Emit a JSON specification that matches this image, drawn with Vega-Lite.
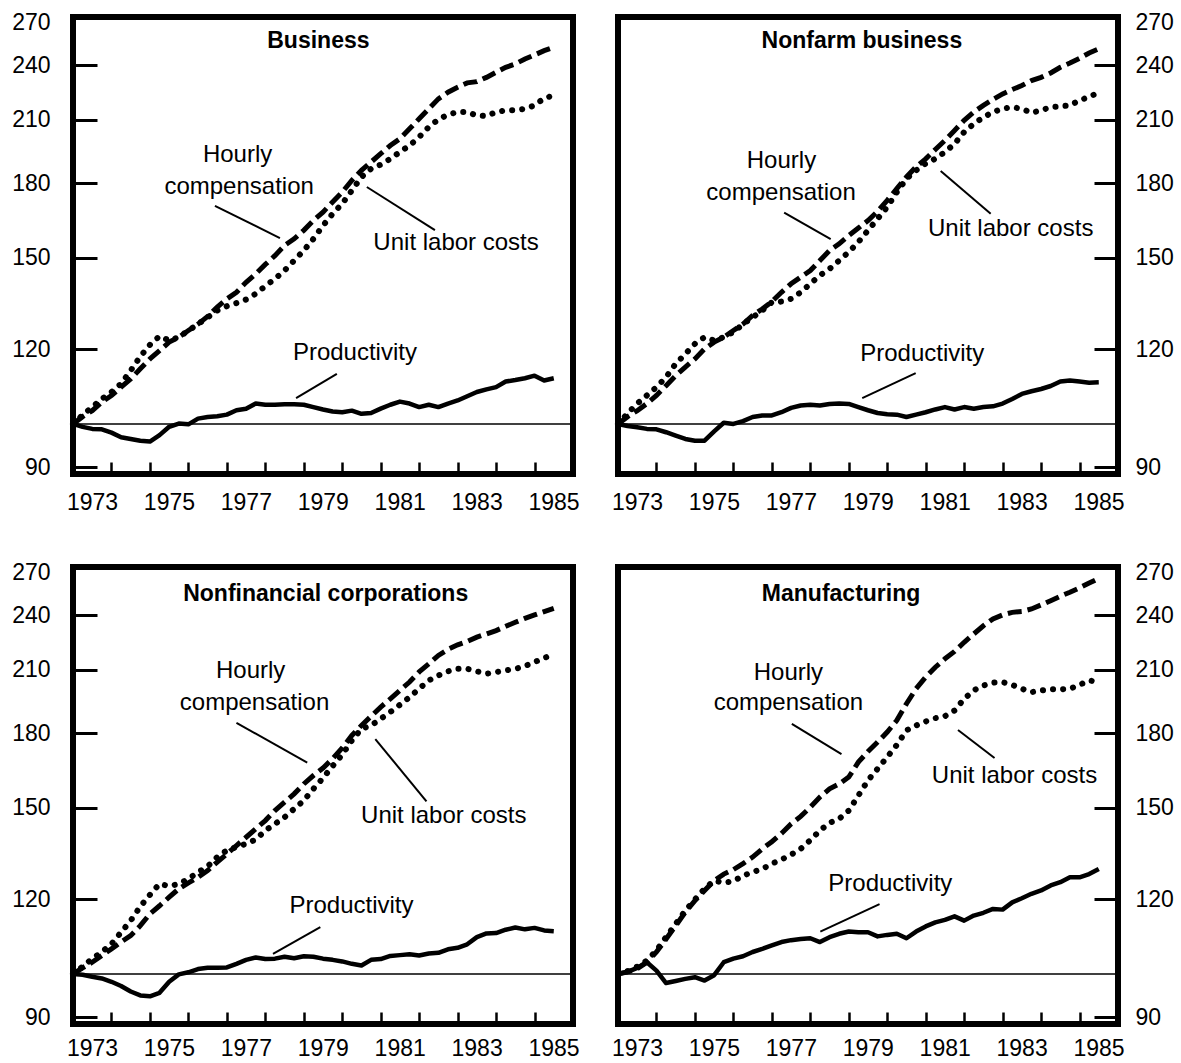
{
"$schema": "https://vega.github.io/schema/vega-lite/v6.json",
"background": "white",
"padding": {"left": 8, "top": 8, "right": 4, "bottom": 4},
"datasets": {"one": [{"n": 1}], "series": [
{"p":"B","s":"hc","t":1973,"v":100},{"p":"B","s":"hc","t":1973.25,"v":101.8},{"p":"B","s":"hc","t":1973.5,"v":103.3},{"p":"B","s":"hc","t":1973.75,"v":105.5},
{"p":"B","s":"hc","t":1974,"v":107.2},{"p":"B","s":"hc","t":1974.25,"v":109.4},{"p":"B","s":"hc","t":1974.5,"v":111.6},{"p":"B","s":"hc","t":1974.75,"v":114.4},
{"p":"B","s":"hc","t":1975,"v":117.2},{"p":"B","s":"hc","t":1975.25,"v":119.6},{"p":"B","s":"hc","t":1975.5,"v":122.1},{"p":"B","s":"hc","t":1975.75,"v":123.6},
{"p":"B","s":"hc","t":1976,"v":125.6},{"p":"B","s":"hc","t":1976.25,"v":127.6},{"p":"B","s":"hc","t":1976.5,"v":130.0},{"p":"B","s":"hc","t":1976.75,"v":133.0},
{"p":"B","s":"hc","t":1977,"v":135.7},{"p":"B","s":"hc","t":1977.25,"v":137.9},{"p":"B","s":"hc","t":1977.5,"v":141.3},{"p":"B","s":"hc","t":1977.75,"v":144.2},
{"p":"B","s":"hc","t":1978,"v":147.6},{"p":"B","s":"hc","t":1978.25,"v":150.8},{"p":"B","s":"hc","t":1978.5,"v":154.6},{"p":"B","s":"hc","t":1978.75,"v":157.1},
{"p":"B","s":"hc","t":1979,"v":160.4},{"p":"B","s":"hc","t":1979.25,"v":164.3},{"p":"B","s":"hc","t":1979.5,"v":167.7},{"p":"B","s":"hc","t":1979.75,"v":171.9},
{"p":"B","s":"hc","t":1980,"v":176.1},{"p":"B","s":"hc","t":1980.25,"v":181.2},{"p":"B","s":"hc","t":1980.5,"v":185.7},{"p":"B","s":"hc","t":1980.75,"v":189.5},
{"p":"B","s":"hc","t":1981,"v":193.4},{"p":"B","s":"hc","t":1981.25,"v":197.3},{"p":"B","s":"hc","t":1981.5,"v":200.6},{"p":"B","s":"hc","t":1981.75,"v":205.5},
{"p":"B","s":"hc","t":1982,"v":210.6},{"p":"B","s":"hc","t":1982.25,"v":215.8},{"p":"B","s":"hc","t":1982.5,"v":221.1},{"p":"B","s":"hc","t":1982.75,"v":224.7},
{"p":"B","s":"hc","t":1983,"v":227.5},{"p":"B","s":"hc","t":1983.25,"v":229.9},{"p":"B","s":"hc","t":1983.5,"v":230.6},{"p":"B","s":"hc","t":1983.75,"v":233.0},
{"p":"B","s":"hc","t":1984,"v":235.9},{"p":"B","s":"hc","t":1984.25,"v":238.8},{"p":"B","s":"hc","t":1984.5,"v":240.8},{"p":"B","s":"hc","t":1984.75,"v":243.7},
{"p":"B","s":"hc","t":1985,"v":246.1},{"p":"B","s":"hc","t":1985.25,"v":248.7},{"p":"B","s":"hc","t":1985.5,"v":250.8},
{"p":"B","s":"ulc","t":1973,"v":100},{"p":"B","s":"ulc","t":1973.25,"v":102.2},{"p":"B","s":"ulc","t":1973.5,"v":104.2},{"p":"B","s":"ulc","t":1973.75,"v":106.3},
{"p":"B","s":"ulc","t":1974,"v":108.1},{"p":"B","s":"ulc","t":1974.25,"v":110.3},{"p":"B","s":"ulc","t":1974.5,"v":113.9},{"p":"B","s":"ulc","t":1974.75,"v":117.9},
{"p":"B","s":"ulc","t":1975,"v":121.3},{"p":"B","s":"ulc","t":1975.25,"v":123.9},{"p":"B","s":"ulc","t":1975.5,"v":122.6},{"p":"B","s":"ulc","t":1975.75,"v":123.6},
{"p":"B","s":"ulc","t":1976,"v":125.6},{"p":"B","s":"ulc","t":1976.25,"v":127.6},{"p":"B","s":"ulc","t":1976.5,"v":129.7},{"p":"B","s":"ulc","t":1976.75,"v":131.9},
{"p":"B","s":"ulc","t":1977,"v":133.3},{"p":"B","s":"ulc","t":1977.25,"v":134.3},{"p":"B","s":"ulc","t":1977.5,"v":135.5},{"p":"B","s":"ulc","t":1977.75,"v":137.4},
{"p":"B","s":"ulc","t":1978,"v":140.0},{"p":"B","s":"ulc","t":1978.25,"v":142.5},{"p":"B","s":"ulc","t":1978.5,"v":145.4},{"p":"B","s":"ulc","t":1978.75,"v":149.0},
{"p":"B","s":"ulc","t":1979,"v":152.7},{"p":"B","s":"ulc","t":1979.25,"v":157.1},{"p":"B","s":"ulc","t":1979.5,"v":162.3},{"p":"B","s":"ulc","t":1979.75,"v":167.0},
{"p":"B","s":"ulc","t":1980,"v":171.2},{"p":"B","s":"ulc","t":1980.25,"v":176.8},{"p":"B","s":"ulc","t":1980.5,"v":182.7},{"p":"B","s":"ulc","t":1980.75,"v":186.4},
{"p":"B","s":"ulc","t":1981,"v":188.3},{"p":"B","s":"ulc","t":1981.25,"v":191.0},{"p":"B","s":"ulc","t":1981.5,"v":194.2},{"p":"B","s":"ulc","t":1981.75,"v":197.3},
{"p":"B","s":"ulc","t":1982,"v":201.4},{"p":"B","s":"ulc","t":1982.25,"v":206.4},{"p":"B","s":"ulc","t":1982.5,"v":210.3},{"p":"B","s":"ulc","t":1982.75,"v":212.7},
{"p":"B","s":"ulc","t":1983,"v":214.1},{"p":"B","s":"ulc","t":1983.25,"v":214.1},{"p":"B","s":"ulc","t":1983.5,"v":212.3},{"p":"B","s":"ulc","t":1983.75,"v":212.0},
{"p":"B","s":"ulc","t":1984,"v":214.1},{"p":"B","s":"ulc","t":1984.25,"v":215.0},{"p":"B","s":"ulc","t":1984.5,"v":215.0},{"p":"B","s":"ulc","t":1984.75,"v":215.8},
{"p":"B","s":"ulc","t":1985,"v":217.6},{"p":"B","s":"ulc","t":1985.25,"v":221.5},{"p":"B","s":"ulc","t":1985.5,"v":222.9},
{"p":"B","s":"pr","t":1973,"v":100},{"p":"B","s":"pr","t":1973.25,"v":99.3},{"p":"B","s":"pr","t":1973.5,"v":98.8},{"p":"B","s":"pr","t":1973.75,"v":98.7},
{"p":"B","s":"pr","t":1974,"v":97.9},{"p":"B","s":"pr","t":1974.25,"v":96.8},{"p":"B","s":"pr","t":1974.5,"v":96.4},{"p":"B","s":"pr","t":1974.75,"v":96.0},
{"p":"B","s":"pr","t":1975,"v":95.8},{"p":"B","s":"pr","t":1975.25,"v":97.3},{"p":"B","s":"pr","t":1975.5,"v":99.3},{"p":"B","s":"pr","t":1975.75,"v":100.1},
{"p":"B","s":"pr","t":1976,"v":99.9},{"p":"B","s":"pr","t":1976.25,"v":101.3},{"p":"B","s":"pr","t":1976.5,"v":101.7},{"p":"B","s":"pr","t":1976.75,"v":101.9},
{"p":"B","s":"pr","t":1977,"v":102.3},{"p":"B","s":"pr","t":1977.25,"v":103.4},{"p":"B","s":"pr","t":1977.5,"v":103.8},{"p":"B","s":"pr","t":1977.75,"v":105.1},
{"p":"B","s":"pr","t":1978,"v":104.8},{"p":"B","s":"pr","t":1978.25,"v":104.8},{"p":"B","s":"pr","t":1978.5,"v":104.9},{"p":"B","s":"pr","t":1978.75,"v":104.9},
{"p":"B","s":"pr","t":1979,"v":104.8},{"p":"B","s":"pr","t":1979.25,"v":104.2},{"p":"B","s":"pr","t":1979.5,"v":103.6},{"p":"B","s":"pr","t":1979.75,"v":103.1},
{"p":"B","s":"pr","t":1980,"v":102.9},{"p":"B","s":"pr","t":1980.25,"v":103.3},{"p":"B","s":"pr","t":1980.5,"v":102.5},{"p":"B","s":"pr","t":1980.75,"v":102.7},
{"p":"B","s":"pr","t":1981,"v":103.8},{"p":"B","s":"pr","t":1981.25,"v":104.8},{"p":"B","s":"pr","t":1981.5,"v":105.6},{"p":"B","s":"pr","t":1981.75,"v":105.1},
{"p":"B","s":"pr","t":1982,"v":104.2},{"p":"B","s":"pr","t":1982.25,"v":104.8},{"p":"B","s":"pr","t":1982.5,"v":104.2},{"p":"B","s":"pr","t":1982.75,"v":105.1},
{"p":"B","s":"pr","t":1983,"v":105.9},{"p":"B","s":"pr","t":1983.25,"v":107.0},{"p":"B","s":"pr","t":1983.5,"v":108.1},{"p":"B","s":"pr","t":1983.75,"v":108.8},
{"p":"B","s":"pr","t":1984,"v":109.4},{"p":"B","s":"pr","t":1984.25,"v":110.9},{"p":"B","s":"pr","t":1984.5,"v":111.3},{"p":"B","s":"pr","t":1984.75,"v":111.8},
{"p":"B","s":"pr","t":1985,"v":112.5},{"p":"B","s":"pr","t":1985.25,"v":111.2},{"p":"B","s":"pr","t":1985.5,"v":111.8},
{"p":"N","s":"hc","t":1973,"v":100},{"p":"N","s":"hc","t":1973.25,"v":101.8},{"p":"N","s":"hc","t":1973.5,"v":103.3},{"p":"N","s":"hc","t":1973.75,"v":105.1},
{"p":"N","s":"hc","t":1974,"v":107.2},{"p":"N","s":"hc","t":1974.25,"v":109.8},{"p":"N","s":"hc","t":1974.5,"v":112.5},{"p":"N","s":"hc","t":1974.75,"v":114.9},
{"p":"N","s":"hc","t":1975,"v":117.2},{"p":"N","s":"hc","t":1975.25,"v":120.1},{"p":"N","s":"hc","t":1975.5,"v":122.1},{"p":"N","s":"hc","t":1975.75,"v":123.6},
{"p":"N","s":"hc","t":1976,"v":125.6},{"p":"N","s":"hc","t":1976.25,"v":127.6},{"p":"N","s":"hc","t":1976.5,"v":130.3},{"p":"N","s":"hc","t":1976.75,"v":132.4},
{"p":"N","s":"hc","t":1977,"v":134.8},{"p":"N","s":"hc","t":1977.25,"v":137.9},{"p":"N","s":"hc","t":1977.5,"v":140.8},{"p":"N","s":"hc","t":1977.75,"v":143.1},
{"p":"N","s":"hc","t":1978,"v":145.4},{"p":"N","s":"hc","t":1978.25,"v":149.0},{"p":"N","s":"hc","t":1978.5,"v":152.7},{"p":"N","s":"hc","t":1978.75,"v":155.2},
{"p":"N","s":"hc","t":1979,"v":158.4},{"p":"N","s":"hc","t":1979.25,"v":161.3},{"p":"N","s":"hc","t":1979.5,"v":164.3},{"p":"N","s":"hc","t":1979.75,"v":168.0},
{"p":"N","s":"hc","t":1980,"v":172.6},{"p":"N","s":"hc","t":1980.25,"v":177.6},{"p":"N","s":"hc","t":1980.5,"v":182.7},{"p":"N","s":"hc","t":1980.75,"v":187.3},
{"p":"N","s":"hc","t":1981,"v":191.0},{"p":"N","s":"hc","t":1981.25,"v":195.4},{"p":"N","s":"hc","t":1981.5,"v":199.8},{"p":"N","s":"hc","t":1981.75,"v":204.7},
{"p":"N","s":"hc","t":1982,"v":209.8},{"p":"N","s":"hc","t":1982.25,"v":214.1},{"p":"N","s":"hc","t":1982.5,"v":217.6},{"p":"N","s":"hc","t":1982.75,"v":220.8},
{"p":"N","s":"hc","t":1983,"v":223.8},{"p":"N","s":"hc","t":1983.25,"v":226.2},{"p":"N","s":"hc","t":1983.5,"v":228.4},{"p":"N","s":"hc","t":1983.75,"v":231.2},
{"p":"N","s":"hc","t":1984,"v":233.0},{"p":"N","s":"hc","t":1984.25,"v":235.5},{"p":"N","s":"hc","t":1984.5,"v":238.8},{"p":"N","s":"hc","t":1984.75,"v":241.3},
{"p":"N","s":"hc","t":1985,"v":244.1},{"p":"N","s":"hc","t":1985.25,"v":247.3},{"p":"N","s":"hc","t":1985.5,"v":249.8},
{"p":"N","s":"ulc","t":1973,"v":100},{"p":"N","s":"ulc","t":1973.25,"v":102.6},{"p":"N","s":"ulc","t":1973.5,"v":105.1},{"p":"N","s":"ulc","t":1973.75,"v":107.2},
{"p":"N","s":"ulc","t":1974,"v":109.4},{"p":"N","s":"ulc","t":1974.25,"v":112.1},{"p":"N","s":"ulc","t":1974.5,"v":115.8},{"p":"N","s":"ulc","t":1974.75,"v":118.6},
{"p":"N","s":"ulc","t":1975,"v":121.6},{"p":"N","s":"ulc","t":1975.25,"v":123.6},{"p":"N","s":"ulc","t":1975.5,"v":122.6},{"p":"N","s":"ulc","t":1975.75,"v":123.6},
{"p":"N","s":"ulc","t":1976,"v":125.1},{"p":"N","s":"ulc","t":1976.25,"v":127.6},{"p":"N","s":"ulc","t":1976.5,"v":129.7},{"p":"N","s":"ulc","t":1976.75,"v":131.9},
{"p":"N","s":"ulc","t":1977,"v":134.6},{"p":"N","s":"ulc","t":1977.25,"v":134.8},{"p":"N","s":"ulc","t":1977.5,"v":135.7},{"p":"N","s":"ulc","t":1977.75,"v":137.9},
{"p":"N","s":"ulc","t":1978,"v":140.8},{"p":"N","s":"ulc","t":1978.25,"v":143.7},{"p":"N","s":"ulc","t":1978.5,"v":146.0},{"p":"N","s":"ulc","t":1978.75,"v":149.0},
{"p":"N","s":"ulc","t":1979,"v":152.1},{"p":"N","s":"ulc","t":1979.25,"v":155.9},{"p":"N","s":"ulc","t":1979.5,"v":160.4},{"p":"N","s":"ulc","t":1979.75,"v":165.0},
{"p":"N","s":"ulc","t":1980,"v":169.8},{"p":"N","s":"ulc","t":1980.25,"v":176.1},{"p":"N","s":"ulc","t":1980.5,"v":181.9},{"p":"N","s":"ulc","t":1980.75,"v":185.7},
{"p":"N","s":"ulc","t":1981,"v":188.8},{"p":"N","s":"ulc","t":1981.25,"v":191.0},{"p":"N","s":"ulc","t":1981.5,"v":194.2},{"p":"N","s":"ulc","t":1981.75,"v":198.1},
{"p":"N","s":"ulc","t":1982,"v":203.9},{"p":"N","s":"ulc","t":1982.25,"v":208.0},{"p":"N","s":"ulc","t":1982.5,"v":211.4},{"p":"N","s":"ulc","t":1982.75,"v":214.1},
{"p":"N","s":"ulc","t":1983,"v":215.8},{"p":"N","s":"ulc","t":1983.25,"v":216.7},{"p":"N","s":"ulc","t":1983.5,"v":215.8},{"p":"N","s":"ulc","t":1983.75,"v":213.7},
{"p":"N","s":"ulc","t":1984,"v":215.0},{"p":"N","s":"ulc","t":1984.25,"v":216.7},{"p":"N","s":"ulc","t":1984.5,"v":217.1},{"p":"N","s":"ulc","t":1984.75,"v":217.6},
{"p":"N","s":"ulc","t":1985,"v":220.3},{"p":"N","s":"ulc","t":1985.25,"v":222.1},{"p":"N","s":"ulc","t":1985.5,"v":224.7},
{"p":"N","s":"pr","t":1973,"v":100},{"p":"N","s":"pr","t":1973.25,"v":99.5},{"p":"N","s":"pr","t":1973.5,"v":99.2},{"p":"N","s":"pr","t":1973.75,"v":98.8},
{"p":"N","s":"pr","t":1974,"v":98.7},{"p":"N","s":"pr","t":1974.25,"v":98.0},{"p":"N","s":"pr","t":1974.5,"v":97.2},{"p":"N","s":"pr","t":1974.75,"v":96.4},
{"p":"N","s":"pr","t":1975,"v":96.0},{"p":"N","s":"pr","t":1975.25,"v":96.0},{"p":"N","s":"pr","t":1975.5,"v":98.2},{"p":"N","s":"pr","t":1975.75,"v":100.3},
{"p":"N","s":"pr","t":1976,"v":100.0},{"p":"N","s":"pr","t":1976.25,"v":100.7},{"p":"N","s":"pr","t":1976.5,"v":101.7},{"p":"N","s":"pr","t":1976.75,"v":102.1},
{"p":"N","s":"pr","t":1977,"v":102.1},{"p":"N","s":"pr","t":1977.25,"v":102.9},{"p":"N","s":"pr","t":1977.5,"v":104.0},{"p":"N","s":"pr","t":1977.75,"v":104.6},
{"p":"N","s":"pr","t":1978,"v":104.8},{"p":"N","s":"pr","t":1978.25,"v":104.6},{"p":"N","s":"pr","t":1978.5,"v":105.0},{"p":"N","s":"pr","t":1978.75,"v":105.1},
{"p":"N","s":"pr","t":1979,"v":105.0},{"p":"N","s":"pr","t":1979.25,"v":104.2},{"p":"N","s":"pr","t":1979.5,"v":103.4},{"p":"N","s":"pr","t":1979.75,"v":102.7},
{"p":"N","s":"pr","t":1980,"v":102.4},{"p":"N","s":"pr","t":1980.25,"v":102.3},{"p":"N","s":"pr","t":1980.5,"v":101.7},{"p":"N","s":"pr","t":1980.75,"v":102.3},
{"p":"N","s":"pr","t":1981,"v":102.9},{"p":"N","s":"pr","t":1981.25,"v":103.6},{"p":"N","s":"pr","t":1981.5,"v":104.2},{"p":"N","s":"pr","t":1981.75,"v":103.6},
{"p":"N","s":"pr","t":1982,"v":104.2},{"p":"N","s":"pr","t":1982.25,"v":103.8},{"p":"N","s":"pr","t":1982.5,"v":104.2},{"p":"N","s":"pr","t":1982.75,"v":104.4},
{"p":"N","s":"pr","t":1983,"v":105.1},{"p":"N","s":"pr","t":1983.25,"v":106.3},{"p":"N","s":"pr","t":1983.5,"v":107.6},{"p":"N","s":"pr","t":1983.75,"v":108.3},
{"p":"N","s":"pr","t":1984,"v":108.9},{"p":"N","s":"pr","t":1984.25,"v":109.7},{"p":"N","s":"pr","t":1984.5,"v":110.9},{"p":"N","s":"pr","t":1984.75,"v":111.2},
{"p":"N","s":"pr","t":1985,"v":110.9},{"p":"N","s":"pr","t":1985.25,"v":110.6},{"p":"N","s":"pr","t":1985.5,"v":110.7},
{"p":"C","s":"hc","t":1973,"v":100},{"p":"C","s":"hc","t":1973.25,"v":101.5},{"p":"C","s":"hc","t":1973.5,"v":102.9},{"p":"C","s":"hc","t":1973.75,"v":104.6},
{"p":"C","s":"hc","t":1974,"v":106.3},{"p":"C","s":"hc","t":1974.25,"v":108.1},{"p":"C","s":"hc","t":1974.5,"v":109.8},{"p":"C","s":"hc","t":1974.75,"v":112.5},
{"p":"C","s":"hc","t":1975,"v":115.8},{"p":"C","s":"hc","t":1975.25,"v":118.1},{"p":"C","s":"hc","t":1975.5,"v":120.6},{"p":"C","s":"hc","t":1975.75,"v":123.1},
{"p":"C","s":"hc","t":1976,"v":124.9},{"p":"C","s":"hc","t":1976.25,"v":126.6},{"p":"C","s":"hc","t":1976.5,"v":128.7},{"p":"C","s":"hc","t":1976.75,"v":131.4},
{"p":"C","s":"hc","t":1977,"v":134.0},{"p":"C","s":"hc","t":1977.25,"v":136.8},{"p":"C","s":"hc","t":1977.5,"v":139.6},{"p":"C","s":"hc","t":1977.75,"v":142.5},
{"p":"C","s":"hc","t":1978,"v":145.4},{"p":"C","s":"hc","t":1978.25,"v":149.0},{"p":"C","s":"hc","t":1978.5,"v":152.1},{"p":"C","s":"hc","t":1978.75,"v":155.2},
{"p":"C","s":"hc","t":1979,"v":159.0},{"p":"C","s":"hc","t":1979.25,"v":162.3},{"p":"C","s":"hc","t":1979.5,"v":165.3},{"p":"C","s":"hc","t":1979.75,"v":169.1},
{"p":"C","s":"hc","t":1980,"v":173.6},{"p":"C","s":"hc","t":1980.25,"v":179.0},{"p":"C","s":"hc","t":1980.5,"v":183.4},{"p":"C","s":"hc","t":1980.75,"v":187.6},
{"p":"C","s":"hc","t":1981,"v":191.8},{"p":"C","s":"hc","t":1981.25,"v":195.7},{"p":"C","s":"hc","t":1981.5,"v":199.8},{"p":"C","s":"hc","t":1981.75,"v":203.9},
{"p":"C","s":"hc","t":1982,"v":209.0},{"p":"C","s":"hc","t":1982.25,"v":213.2},{"p":"C","s":"hc","t":1982.5,"v":217.6},{"p":"C","s":"hc","t":1982.75,"v":220.8},
{"p":"C","s":"hc","t":1983,"v":223.3},{"p":"C","s":"hc","t":1983.25,"v":225.1},{"p":"C","s":"hc","t":1983.5,"v":227.5},{"p":"C","s":"hc","t":1983.75,"v":229.3},
{"p":"C","s":"hc","t":1984,"v":231.2},{"p":"C","s":"hc","t":1984.25,"v":233.6},{"p":"C","s":"hc","t":1984.5,"v":235.9},{"p":"C","s":"hc","t":1984.75,"v":238.2},
{"p":"C","s":"hc","t":1985,"v":240.2},{"p":"C","s":"hc","t":1985.25,"v":242.2},{"p":"C","s":"hc","t":1985.5,"v":244.1},
{"p":"C","s":"ulc","t":1973,"v":100},{"p":"C","s":"ulc","t":1973.25,"v":101.8},{"p":"C","s":"ulc","t":1973.5,"v":103.8},{"p":"C","s":"ulc","t":1973.75,"v":105.5},
{"p":"C","s":"ulc","t":1974,"v":107.6},{"p":"C","s":"ulc","t":1974.25,"v":110.7},{"p":"C","s":"ulc","t":1974.5,"v":113.9},{"p":"C","s":"ulc","t":1974.75,"v":117.9},
{"p":"C","s":"ulc","t":1975,"v":121.3},{"p":"C","s":"ulc","t":1975.25,"v":124.6},{"p":"C","s":"ulc","t":1975.5,"v":123.9},{"p":"C","s":"ulc","t":1975.75,"v":124.6},
{"p":"C","s":"ulc","t":1976,"v":126.1},{"p":"C","s":"ulc","t":1976.25,"v":128.2},{"p":"C","s":"ulc","t":1976.5,"v":130.0},{"p":"C","s":"ulc","t":1976.75,"v":133.0},
{"p":"C","s":"ulc","t":1977,"v":135.2},{"p":"C","s":"ulc","t":1977.25,"v":136.3},{"p":"C","s":"ulc","t":1977.5,"v":137.4},{"p":"C","s":"ulc","t":1977.75,"v":138.8},
{"p":"C","s":"ulc","t":1978,"v":141.9},{"p":"C","s":"ulc","t":1978.25,"v":144.2},{"p":"C","s":"ulc","t":1978.5,"v":146.6},{"p":"C","s":"ulc","t":1978.75,"v":149.6},
{"p":"C","s":"ulc","t":1979,"v":152.7},{"p":"C","s":"ulc","t":1979.25,"v":157.1},{"p":"C","s":"ulc","t":1979.5,"v":161.3},{"p":"C","s":"ulc","t":1979.75,"v":166.1},
{"p":"C","s":"ulc","t":1980,"v":170.8},{"p":"C","s":"ulc","t":1980.25,"v":176.8},{"p":"C","s":"ulc","t":1980.5,"v":181.9},{"p":"C","s":"ulc","t":1980.75,"v":183.4},
{"p":"C","s":"ulc","t":1981,"v":186.4},{"p":"C","s":"ulc","t":1981.25,"v":189.5},{"p":"C","s":"ulc","t":1981.5,"v":192.9},{"p":"C","s":"ulc","t":1981.75,"v":196.5},
{"p":"C","s":"ulc","t":1982,"v":200.6},{"p":"C","s":"ulc","t":1982.25,"v":204.7},{"p":"C","s":"ulc","t":1982.5,"v":207.2},{"p":"C","s":"ulc","t":1982.75,"v":209.3},
{"p":"C","s":"ulc","t":1983,"v":210.6},{"p":"C","s":"ulc","t":1983.25,"v":210.6},{"p":"C","s":"ulc","t":1983.5,"v":209.3},{"p":"C","s":"ulc","t":1983.75,"v":208.1},
{"p":"C","s":"ulc","t":1984,"v":208.9},{"p":"C","s":"ulc","t":1984.25,"v":209.8},{"p":"C","s":"ulc","t":1984.5,"v":210.6},{"p":"C","s":"ulc","t":1984.75,"v":212.0},
{"p":"C","s":"ulc","t":1985,"v":214.1},{"p":"C","s":"ulc","t":1985.25,"v":216.2},{"p":"C","s":"ulc","t":1985.5,"v":218.5},
{"p":"C","s":"pr","t":1973,"v":100},{"p":"C","s":"pr","t":1973.25,"v":99.8},{"p":"C","s":"pr","t":1973.5,"v":99.3},{"p":"C","s":"pr","t":1973.75,"v":98.9},
{"p":"C","s":"pr","t":1974,"v":98.1},{"p":"C","s":"pr","t":1974.25,"v":97.1},{"p":"C","s":"pr","t":1974.5,"v":95.8},{"p":"C","s":"pr","t":1974.75,"v":94.9},
{"p":"C","s":"pr","t":1975,"v":94.7},{"p":"C","s":"pr","t":1975.25,"v":95.5},{"p":"C","s":"pr","t":1975.5,"v":98.1},{"p":"C","s":"pr","t":1975.75,"v":99.9},
{"p":"C","s":"pr","t":1976,"v":100.4},{"p":"C","s":"pr","t":1976.25,"v":101.2},{"p":"C","s":"pr","t":1976.5,"v":101.5},{"p":"C","s":"pr","t":1976.75,"v":101.5},
{"p":"C","s":"pr","t":1977,"v":101.6},{"p":"C","s":"pr","t":1977.25,"v":102.5},{"p":"C","s":"pr","t":1977.5,"v":103.5},{"p":"C","s":"pr","t":1977.75,"v":104.1},
{"p":"C","s":"pr","t":1978,"v":103.7},{"p":"C","s":"pr","t":1978.25,"v":103.8},{"p":"C","s":"pr","t":1978.5,"v":104.3},{"p":"C","s":"pr","t":1978.75,"v":103.9},
{"p":"C","s":"pr","t":1979,"v":104.4},{"p":"C","s":"pr","t":1979.25,"v":104.3},{"p":"C","s":"pr","t":1979.5,"v":103.8},{"p":"C","s":"pr","t":1979.75,"v":103.5},
{"p":"C","s":"pr","t":1980,"v":103.1},{"p":"C","s":"pr","t":1980.25,"v":102.5},{"p":"C","s":"pr","t":1980.5,"v":102.1},{"p":"C","s":"pr","t":1980.75,"v":103.5},
{"p":"C","s":"pr","t":1981,"v":103.7},{"p":"C","s":"pr","t":1981.25,"v":104.5},{"p":"C","s":"pr","t":1981.5,"v":104.7},{"p":"C","s":"pr","t":1981.75,"v":104.9},
{"p":"C","s":"pr","t":1982,"v":104.6},{"p":"C","s":"pr","t":1982.25,"v":105.1},{"p":"C","s":"pr","t":1982.5,"v":105.3},{"p":"C","s":"pr","t":1982.75,"v":106.2},
{"p":"C","s":"pr","t":1983,"v":106.6},{"p":"C","s":"pr","t":1983.25,"v":107.5},{"p":"C","s":"pr","t":1983.5,"v":109.4},{"p":"C","s":"pr","t":1983.75,"v":110.4},
{"p":"C","s":"pr","t":1984,"v":110.5},{"p":"C","s":"pr","t":1984.25,"v":111.4},{"p":"C","s":"pr","t":1984.5,"v":112.0},{"p":"C","s":"pr","t":1984.75,"v":111.5},
{"p":"C","s":"pr","t":1985,"v":111.9},{"p":"C","s":"pr","t":1985.25,"v":111.2},{"p":"C","s":"pr","t":1985.5,"v":111.0},
{"p":"M","s":"hc","t":1973,"v":100},{"p":"M","s":"hc","t":1973.25,"v":100.5},{"p":"M","s":"hc","t":1973.5,"v":101.3},{"p":"M","s":"hc","t":1973.75,"v":102.9},
{"p":"M","s":"hc","t":1974,"v":105.5},{"p":"M","s":"hc","t":1974.25,"v":108.9},{"p":"M","s":"hc","t":1974.5,"v":112.5},{"p":"M","s":"hc","t":1974.75,"v":116.3},
{"p":"M","s":"hc","t":1975,"v":119.6},{"p":"M","s":"hc","t":1975.25,"v":122.6},{"p":"M","s":"hc","t":1975.5,"v":125.6},{"p":"M","s":"hc","t":1975.75,"v":127.6},
{"p":"M","s":"hc","t":1976,"v":129.0},{"p":"M","s":"hc","t":1976.25,"v":130.9},{"p":"M","s":"hc","t":1976.5,"v":133.0},{"p":"M","s":"hc","t":1976.75,"v":135.7},
{"p":"M","s":"hc","t":1977,"v":138.1},{"p":"M","s":"hc","t":1977.25,"v":140.9},{"p":"M","s":"hc","t":1977.5,"v":144.2},{"p":"M","s":"hc","t":1977.75,"v":146.9},
{"p":"M","s":"hc","t":1978,"v":150.2},{"p":"M","s":"hc","t":1978.25,"v":154.0},{"p":"M","s":"hc","t":1978.5,"v":157.1},{"p":"M","s":"hc","t":1978.75,"v":159.0},
{"p":"M","s":"hc","t":1979,"v":161.7},{"p":"M","s":"hc","t":1979.25,"v":167.7},{"p":"M","s":"hc","t":1979.5,"v":172.1},{"p":"M","s":"hc","t":1979.75,"v":176.1},
{"p":"M","s":"hc","t":1980,"v":180.5},{"p":"M","s":"hc","t":1980.25,"v":185.7},{"p":"M","s":"hc","t":1980.5,"v":193.4},{"p":"M","s":"hc","t":1980.75,"v":200.6},
{"p":"M","s":"hc","t":1981,"v":206.4},{"p":"M","s":"hc","t":1981.25,"v":211.4},{"p":"M","s":"hc","t":1981.5,"v":215.8},{"p":"M","s":"hc","t":1981.75,"v":219.7},
{"p":"M","s":"hc","t":1982,"v":224.7},{"p":"M","s":"hc","t":1982.25,"v":229.3},{"p":"M","s":"hc","t":1982.5,"v":233.9},{"p":"M","s":"hc","t":1982.75,"v":237.9},
{"p":"M","s":"hc","t":1983,"v":240.2},{"p":"M","s":"hc","t":1983.25,"v":241.7},{"p":"M","s":"hc","t":1983.5,"v":242.2},{"p":"M","s":"hc","t":1983.75,"v":243.7},
{"p":"M","s":"hc","t":1984,"v":246.1},{"p":"M","s":"hc","t":1984.25,"v":248.7},{"p":"M","s":"hc","t":1984.5,"v":251.4},{"p":"M","s":"hc","t":1984.75,"v":253.9},
{"p":"M","s":"hc","t":1985,"v":256.6},{"p":"M","s":"hc","t":1985.25,"v":259.6},{"p":"M","s":"hc","t":1985.5,"v":262.6},
{"p":"M","s":"ulc","t":1973,"v":100},{"p":"M","s":"ulc","t":1973.25,"v":100.7},{"p":"M","s":"ulc","t":1973.5,"v":101.8},{"p":"M","s":"ulc","t":1973.75,"v":103.3},
{"p":"M","s":"ulc","t":1974,"v":105.9},{"p":"M","s":"ulc","t":1974.25,"v":109.4},{"p":"M","s":"ulc","t":1974.5,"v":113.0},{"p":"M","s":"ulc","t":1974.75,"v":116.7},
{"p":"M","s":"ulc","t":1975,"v":119.9},{"p":"M","s":"ulc","t":1975.25,"v":123.1},{"p":"M","s":"ulc","t":1975.5,"v":125.6},{"p":"M","s":"ulc","t":1975.75,"v":124.9},
{"p":"M","s":"ulc","t":1976,"v":125.4},{"p":"M","s":"ulc","t":1976.25,"v":127.1},{"p":"M","s":"ulc","t":1976.5,"v":128.2},{"p":"M","s":"ulc","t":1976.75,"v":129.2},
{"p":"M","s":"ulc","t":1977,"v":130.9},{"p":"M","s":"ulc","t":1977.25,"v":132.2},{"p":"M","s":"ulc","t":1977.5,"v":133.8},{"p":"M","s":"ulc","t":1977.75,"v":135.7},
{"p":"M","s":"ulc","t":1978,"v":138.6},{"p":"M","s":"ulc","t":1978.25,"v":141.9},{"p":"M","s":"ulc","t":1978.5,"v":144.6},{"p":"M","s":"ulc","t":1978.75,"v":146.0},
{"p":"M","s":"ulc","t":1979,"v":149.0},{"p":"M","s":"ulc","t":1979.25,"v":154.6},{"p":"M","s":"ulc","t":1979.5,"v":160.4},{"p":"M","s":"ulc","t":1979.75,"v":165.0},
{"p":"M","s":"ulc","t":1980,"v":169.8},{"p":"M","s":"ulc","t":1980.25,"v":174.9},{"p":"M","s":"ulc","t":1980.5,"v":181.2},{"p":"M","s":"ulc","t":1980.75,"v":183.4},
{"p":"M","s":"ulc","t":1981,"v":185.2},{"p":"M","s":"ulc","t":1981.25,"v":186.7},{"p":"M","s":"ulc","t":1981.5,"v":187.6},{"p":"M","s":"ulc","t":1981.75,"v":190.2},
{"p":"M","s":"ulc","t":1982,"v":195.7},{"p":"M","s":"ulc","t":1982.25,"v":199.8},{"p":"M","s":"ulc","t":1982.5,"v":202.2},{"p":"M","s":"ulc","t":1982.75,"v":203.6},
{"p":"M","s":"ulc","t":1983,"v":203.9},{"p":"M","s":"ulc","t":1983.25,"v":202.5},{"p":"M","s":"ulc","t":1983.5,"v":200.6},{"p":"M","s":"ulc","t":1983.75,"v":198.9},
{"p":"M","s":"ulc","t":1984,"v":199.8},{"p":"M","s":"ulc","t":1984.25,"v":200.3},{"p":"M","s":"ulc","t":1984.5,"v":200.3},{"p":"M","s":"ulc","t":1984.75,"v":200.6},
{"p":"M","s":"ulc","t":1985,"v":202.5},{"p":"M","s":"ulc","t":1985.25,"v":204.7},{"p":"M","s":"ulc","t":1985.5,"v":203.9},
{"p":"M","s":"pr","t":1973,"v":100},{"p":"M","s":"pr","t":1973.25,"v":100.5},{"p":"M","s":"pr","t":1973.5,"v":101.5},{"p":"M","s":"pr","t":1973.75,"v":102.9},
{"p":"M","s":"pr","t":1974,"v":100.8},{"p":"M","s":"pr","t":1974.25,"v":97.8},{"p":"M","s":"pr","t":1974.5,"v":98.3},{"p":"M","s":"pr","t":1974.75,"v":98.8},
{"p":"M","s":"pr","t":1975,"v":99.2},{"p":"M","s":"pr","t":1975.25,"v":98.4},{"p":"M","s":"pr","t":1975.5,"v":99.7},{"p":"M","s":"pr","t":1975.75,"v":102.9},
{"p":"M","s":"pr","t":1976,"v":103.8},{"p":"M","s":"pr","t":1976.25,"v":104.4},{"p":"M","s":"pr","t":1976.5,"v":105.5},{"p":"M","s":"pr","t":1976.75,"v":106.3},
{"p":"M","s":"pr","t":1977,"v":107.2},{"p":"M","s":"pr","t":1977.25,"v":108.1},{"p":"M","s":"pr","t":1977.5,"v":108.6},{"p":"M","s":"pr","t":1977.75,"v":108.9},
{"p":"M","s":"pr","t":1978,"v":109.1},{"p":"M","s":"pr","t":1978.25,"v":108.1},{"p":"M","s":"pr","t":1978.5,"v":109.4},{"p":"M","s":"pr","t":1978.75,"v":110.3},
{"p":"M","s":"pr","t":1979,"v":110.9},{"p":"M","s":"pr","t":1979.25,"v":110.7},{"p":"M","s":"pr","t":1979.5,"v":110.7},{"p":"M","s":"pr","t":1979.75,"v":109.6},
{"p":"M","s":"pr","t":1980,"v":110.0},{"p":"M","s":"pr","t":1980.25,"v":110.3},{"p":"M","s":"pr","t":1980.5,"v":109.1},{"p":"M","s":"pr","t":1980.75,"v":110.9},
{"p":"M","s":"pr","t":1981,"v":112.3},{"p":"M","s":"pr","t":1981.25,"v":113.4},{"p":"M","s":"pr","t":1981.5,"v":114.1},{"p":"M","s":"pr","t":1981.75,"v":115.1},
{"p":"M","s":"pr","t":1982,"v":113.9},{"p":"M","s":"pr","t":1982.25,"v":115.3},{"p":"M","s":"pr","t":1982.5,"v":116.1},{"p":"M","s":"pr","t":1982.75,"v":117.2},
{"p":"M","s":"pr","t":1983,"v":117.0},{"p":"M","s":"pr","t":1983.25,"v":119.1},{"p":"M","s":"pr","t":1983.5,"v":120.3},{"p":"M","s":"pr","t":1983.75,"v":121.6},
{"p":"M","s":"pr","t":1984,"v":122.6},{"p":"M","s":"pr","t":1984.25,"v":124.1},{"p":"M","s":"pr","t":1984.5,"v":125.1},{"p":"M","s":"pr","t":1984.75,"v":126.6},
{"p":"M","s":"pr","t":1985,"v":126.6},{"p":"M","s":"pr","t":1985.25,"v":127.6},{"p":"M","s":"pr","t":1985.5,"v":129.2}
]},
"columns": 2,
"spacing": {"row": 93, "column": 45},
"bounds": "flush",
"concat": [
{
 "width": 500, "height": 457,
 "layer": [
  {"data": {"name": "series"}, "transform": [{"filter": "datum.p == 'B' && datum.s == 'pr'"}], "mark": {"type": "line", "strokeWidth": 4.5, "strokeJoin": "round"},
   "encoding": {
    "x": {"field": "t", "type": "quantitative", "scale": {"domain": [1973, 1986], "nice": false, "zero": false}, "axis": {"title": null, "values": [1973,1974,1975,1976,1977,1978,1979,1980,1981,1982,1983,1984,1985], "format": "d", "labelExpr": "datum.value % 2 == 1 ? datum.label : ''", "labelOffset": 19, "labelFlush": false, "labelOverlap": false, "tickSize": -12, "tickWidth": 2.5, "labelPadding": 29}},
    "y": {"field": "v", "type": "quantitative", "scale": {"type": "log", "domain": [88.5, 270], "nice": false}, "axis": {"title": null, "orient": "left", "values": [90,120,150,180,210,240,270], "tickSize": -24, "tickWidth": 3, "labelPadding": 47, "labelFlush": true, "labelFlushOffset": 6}}}},
  {"data": {"name": "series"}, "transform": [{"filter": "datum.p == 'B' && datum.s == 'hc'"}], "mark": {"type": "line", "strokeWidth": 5, "strokeDash": [14, 6]},
   "encoding": {
    "x": {"field": "t", "type": "quantitative", "scale": {"domain": [1973, 1986], "nice": false, "zero": false}, "axis": {"title": null, "values": [1973,1974,1975,1976,1977,1978,1979,1980,1981,1982,1983,1984,1985], "format": "d", "labelExpr": "datum.value % 2 == 1 ? datum.label : ''", "labelOffset": 19, "labelFlush": false, "labelOverlap": false, "tickSize": -12, "tickWidth": 2.5, "labelPadding": 29}},
    "y": {"field": "v", "type": "quantitative", "scale": {"type": "log", "domain": [88.5, 270], "nice": false}, "axis": {"title": null, "orient": "left", "values": [90,120,150,180,210,240,270], "tickSize": -24, "tickWidth": 3, "labelPadding": 47, "labelFlush": true, "labelFlushOffset": 6}}}},
  {"data": {"name": "series"}, "transform": [{"filter": "datum.p == 'B' && datum.s == 'ulc'"}], "mark": {"type": "line", "strokeWidth": 6, "strokeDash": [0.1, 10], "strokeCap": "round"},
   "encoding": {
    "x": {"field": "t", "type": "quantitative", "scale": {"domain": [1973, 1986], "nice": false, "zero": false}, "axis": {"title": null, "values": [1973,1974,1975,1976,1977,1978,1979,1980,1981,1982,1983,1984,1985], "format": "d", "labelExpr": "datum.value % 2 == 1 ? datum.label : ''", "labelOffset": 19, "labelFlush": false, "labelOverlap": false, "tickSize": -12, "tickWidth": 2.5, "labelPadding": 29}},
    "y": {"field": "v", "type": "quantitative", "scale": {"type": "log", "domain": [88.5, 270], "nice": false}, "axis": {"title": null, "orient": "left", "values": [90,120,150,180,210,240,270], "tickSize": -24, "tickWidth": 3, "labelPadding": 47, "labelFlush": true, "labelFlushOffset": 6}}}},
  {"data": {"name": "one"}, "mark": {"type": "rule", "strokeWidth": 1.5}, "encoding": {"x": {"datum": 1973}, "x2": {"datum": 1986}, "y": {"datum": 100}}},
  {"data": {"name": "one"}, "mark": {"type": "text", "text": "Business", "fontWeight": "bold", "fontSize": 23}, "encoding": {"x": {"datum": 1979.38}, "y": {"datum": 253}}},
  {"data": {"name": "one"}, "mark": {"type": "text", "text": "Hourly"}, "encoding": {"x": {"datum": 1977.28}, "y": {"datum": 191.4}}},
  {"data": {"name": "one"}, "mark": {"type": "text", "text": "compensation"}, "encoding": {"x": {"datum": 1977.32}, "y": {"datum": 176.9}}},
  {"data": {"name": "one"}, "mark": {"type": "text", "text": "Unit labor costs"}, "encoding": {"x": {"datum": 1982.96}, "y": {"datum": 154.5}}},
  {"data": {"name": "one"}, "mark": {"type": "text", "text": "Productivity"}, "encoding": {"x": {"datum": 1980.33}, "y": {"datum": 118.1}}},
  {"data": {"name": "one"}, "mark": {"type": "rule", "strokeWidth": 2}, "encoding": {"x": {"datum": 1976.69}, "y": {"datum": 170.3}, "x2": {"datum": 1978.38}, "y2": {"datum": 157.4}}},
  {"data": {"name": "one"}, "mark": {"type": "rule", "strokeWidth": 2}, "encoding": {"x": {"datum": 1980.64}, "y": {"datum": 178.3}, "x2": {"datum": 1982.41}, "y2": {"datum": 160.5}}},
  {"data": {"name": "one"}, "mark": {"type": "rule", "strokeWidth": 2}, "encoding": {"x": {"datum": 1978.8}, "y": {"datum": 106.5}, "x2": {"datum": 1979.86}, "y2": {"datum": 113.0}}}
 ]
},
{
 "width": 500, "height": 457,
 "layer": [
  {"data": {"name": "series"}, "transform": [{"filter": "datum.p == 'N' && datum.s == 'pr'"}], "mark": {"type": "line", "strokeWidth": 4.5, "strokeJoin": "round"},
   "encoding": {
    "x": {"field": "t", "type": "quantitative", "scale": {"domain": [1973, 1986], "nice": false, "zero": false}, "axis": {"title": null, "values": [1973,1974,1975,1976,1977,1978,1979,1980,1981,1982,1983,1984,1985], "format": "d", "labelExpr": "datum.value % 2 == 1 ? datum.label : ''", "labelOffset": 19, "labelFlush": false, "labelOverlap": false, "tickSize": -12, "tickWidth": 2.5, "labelPadding": 29}},
    "y": {"field": "v", "type": "quantitative", "scale": {"type": "log", "domain": [88.5, 270], "nice": false}, "axis": {"title": null, "orient": "right", "values": [90,120,150,180,210,240,270], "tickSize": -24, "tickWidth": 3, "labelPadding": 41, "labelFlush": true, "labelFlushOffset": 6}}}},
  {"data": {"name": "series"}, "transform": [{"filter": "datum.p == 'N' && datum.s == 'hc'"}], "mark": {"type": "line", "strokeWidth": 5, "strokeDash": [14, 6]},
   "encoding": {
    "x": {"field": "t", "type": "quantitative", "scale": {"domain": [1973, 1986], "nice": false, "zero": false}, "axis": {"title": null, "values": [1973,1974,1975,1976,1977,1978,1979,1980,1981,1982,1983,1984,1985], "format": "d", "labelExpr": "datum.value % 2 == 1 ? datum.label : ''", "labelOffset": 19, "labelFlush": false, "labelOverlap": false, "tickSize": -12, "tickWidth": 2.5, "labelPadding": 29}},
    "y": {"field": "v", "type": "quantitative", "scale": {"type": "log", "domain": [88.5, 270], "nice": false}, "axis": {"title": null, "orient": "right", "values": [90,120,150,180,210,240,270], "tickSize": -24, "tickWidth": 3, "labelPadding": 41, "labelFlush": true, "labelFlushOffset": 6}}}},
  {"data": {"name": "series"}, "transform": [{"filter": "datum.p == 'N' && datum.s == 'ulc'"}], "mark": {"type": "line", "strokeWidth": 6, "strokeDash": [0.1, 10], "strokeCap": "round"},
   "encoding": {
    "x": {"field": "t", "type": "quantitative", "scale": {"domain": [1973, 1986], "nice": false, "zero": false}, "axis": {"title": null, "values": [1973,1974,1975,1976,1977,1978,1979,1980,1981,1982,1983,1984,1985], "format": "d", "labelExpr": "datum.value % 2 == 1 ? datum.label : ''", "labelOffset": 19, "labelFlush": false, "labelOverlap": false, "tickSize": -12, "tickWidth": 2.5, "labelPadding": 29}},
    "y": {"field": "v", "type": "quantitative", "scale": {"type": "log", "domain": [88.5, 270], "nice": false}, "axis": {"title": null, "orient": "right", "values": [90,120,150,180,210,240,270], "tickSize": -24, "tickWidth": 3, "labelPadding": 41, "labelFlush": true, "labelFlushOffset": 6}}}},
  {"data": {"name": "one"}, "mark": {"type": "rule", "strokeWidth": 1.5}, "encoding": {"x": {"datum": 1973}, "x2": {"datum": 1986}, "y": {"datum": 100}}},
  {"data": {"name": "one"}, "mark": {"type": "text", "text": "Nonfarm business", "fontWeight": "bold", "fontSize": 23}, "encoding": {"x": {"datum": 1979.34}, "y": {"datum": 253}}},
  {"data": {"name": "one"}, "mark": {"type": "text", "text": "Hourly"}, "encoding": {"x": {"datum": 1977.25}, "y": {"datum": 188.6}}},
  {"data": {"name": "one"}, "mark": {"type": "text", "text": "compensation"}, "encoding": {"x": {"datum": 1977.24}, "y": {"datum": 174.3}}},
  {"data": {"name": "one"}, "mark": {"type": "text", "text": "Unit labor costs"}, "encoding": {"x": {"datum": 1983.21}, "y": {"datum": 159.8}}},
  {"data": {"name": "one"}, "mark": {"type": "text", "text": "Productivity"}, "encoding": {"x": {"datum": 1980.91}, "y": {"datum": 117.7}}},
  {"data": {"name": "one"}, "mark": {"type": "rule", "strokeWidth": 2}, "encoding": {"x": {"datum": 1977.32}, "y": {"datum": 167.5}, "x2": {"datum": 1978.53}, "y2": {"datum": 157.0}}},
  {"data": {"name": "one"}, "mark": {"type": "rule", "strokeWidth": 2}, "encoding": {"x": {"datum": 1981.39}, "y": {"datum": 185.4}, "x2": {"datum": 1982.69}, "y2": {"datum": 167.0}}},
  {"data": {"name": "one"}, "mark": {"type": "rule", "strokeWidth": 2}, "encoding": {"x": {"datum": 1979.35}, "y": {"datum": 106.5}, "x2": {"datum": 1980.74}, "y2": {"datum": 113.2}}}
 ]
},
{
 "width": 500, "height": 457,
 "layer": [
  {"data": {"name": "series"}, "transform": [{"filter": "datum.p == 'C' && datum.s == 'pr'"}], "mark": {"type": "line", "strokeWidth": 4.5, "strokeJoin": "round"},
   "encoding": {
    "x": {"field": "t", "type": "quantitative", "scale": {"domain": [1973, 1986], "nice": false, "zero": false}, "axis": {"title": null, "values": [1973,1974,1975,1976,1977,1978,1979,1980,1981,1982,1983,1984,1985], "format": "d", "labelExpr": "datum.value % 2 == 1 ? datum.label : ''", "labelOffset": 19, "labelFlush": false, "labelOverlap": false, "tickSize": -12, "tickWidth": 2.5, "labelPadding": 25}},
    "y": {"field": "v", "type": "quantitative", "scale": {"type": "log", "domain": [88.5, 270], "nice": false}, "axis": {"title": null, "orient": "left", "values": [90,120,150,180,210,240,270], "tickSize": -24, "tickWidth": 3, "labelPadding": 47, "labelFlush": true, "labelFlushOffset": 6}}}},
  {"data": {"name": "series"}, "transform": [{"filter": "datum.p == 'C' && datum.s == 'hc'"}], "mark": {"type": "line", "strokeWidth": 5, "strokeDash": [14, 6]},
   "encoding": {
    "x": {"field": "t", "type": "quantitative", "scale": {"domain": [1973, 1986], "nice": false, "zero": false}, "axis": {"title": null, "values": [1973,1974,1975,1976,1977,1978,1979,1980,1981,1982,1983,1984,1985], "format": "d", "labelExpr": "datum.value % 2 == 1 ? datum.label : ''", "labelOffset": 19, "labelFlush": false, "labelOverlap": false, "tickSize": -12, "tickWidth": 2.5, "labelPadding": 25}},
    "y": {"field": "v", "type": "quantitative", "scale": {"type": "log", "domain": [88.5, 270], "nice": false}, "axis": {"title": null, "orient": "left", "values": [90,120,150,180,210,240,270], "tickSize": -24, "tickWidth": 3, "labelPadding": 47, "labelFlush": true, "labelFlushOffset": 6}}}},
  {"data": {"name": "series"}, "transform": [{"filter": "datum.p == 'C' && datum.s == 'ulc'"}], "mark": {"type": "line", "strokeWidth": 6, "strokeDash": [0.1, 10], "strokeCap": "round"},
   "encoding": {
    "x": {"field": "t", "type": "quantitative", "scale": {"domain": [1973, 1986], "nice": false, "zero": false}, "axis": {"title": null, "values": [1973,1974,1975,1976,1977,1978,1979,1980,1981,1982,1983,1984,1985], "format": "d", "labelExpr": "datum.value % 2 == 1 ? datum.label : ''", "labelOffset": 19, "labelFlush": false, "labelOverlap": false, "tickSize": -12, "tickWidth": 2.5, "labelPadding": 25}},
    "y": {"field": "v", "type": "quantitative", "scale": {"type": "log", "domain": [88.5, 270], "nice": false}, "axis": {"title": null, "orient": "left", "values": [90,120,150,180,210,240,270], "tickSize": -24, "tickWidth": 3, "labelPadding": 47, "labelFlush": true, "labelFlushOffset": 6}}}},
  {"data": {"name": "one"}, "mark": {"type": "rule", "strokeWidth": 1.5}, "encoding": {"x": {"datum": 1973}, "x2": {"datum": 1986}, "y": {"datum": 100}}},
  {"data": {"name": "one"}, "mark": {"type": "text", "text": "Nonfinancial corporations", "fontWeight": "bold", "fontSize": 23}, "encoding": {"x": {"datum": 1979.57}, "y": {"datum": 251.1}}},
  {"data": {"name": "one"}, "mark": {"type": "text", "text": "Hourly"}, "encoding": {"x": {"datum": 1977.62}, "y": {"datum": 207.9}}},
  {"data": {"name": "one"}, "mark": {"type": "text", "text": "compensation"}, "encoding": {"x": {"datum": 1977.72}, "y": {"datum": 192.5}}},
  {"data": {"name": "one"}, "mark": {"type": "text", "text": "Unit labor costs"}, "encoding": {"x": {"datum": 1982.64}, "y": {"datum": 145.9}}},
  {"data": {"name": "one"}, "mark": {"type": "text", "text": "Productivity"}, "encoding": {"x": {"datum": 1980.24}, "y": {"datum": 117.2}}},
  {"data": {"name": "one"}, "mark": {"type": "rule", "strokeWidth": 2}, "encoding": {"x": {"datum": 1977.25}, "y": {"datum": 184.6}, "x2": {"datum": 1979.09}, "y2": {"datum": 167.5}}},
  {"data": {"name": "one"}, "mark": {"type": "rule", "strokeWidth": 2}, "encoding": {"x": {"datum": 1980.86}, "y": {"datum": 177.4}, "x2": {"datum": 1982.19}, "y2": {"datum": 152.4}}},
  {"data": {"name": "one"}, "mark": {"type": "rule", "strokeWidth": 2}, "encoding": {"x": {"datum": 1978.2}, "y": {"datum": 105.0}, "x2": {"datum": 1979.43}, "y2": {"datum": 112.1}}}
 ]
},
{
 "width": 500, "height": 457,
 "layer": [
  {"data": {"name": "series"}, "transform": [{"filter": "datum.p == 'M' && datum.s == 'pr'"}], "mark": {"type": "line", "strokeWidth": 4.5, "strokeJoin": "round"},
   "encoding": {
    "x": {"field": "t", "type": "quantitative", "scale": {"domain": [1973, 1986], "nice": false, "zero": false}, "axis": {"title": null, "values": [1973,1974,1975,1976,1977,1978,1979,1980,1981,1982,1983,1984,1985], "format": "d", "labelExpr": "datum.value % 2 == 1 ? datum.label : ''", "labelOffset": 19, "labelFlush": false, "labelOverlap": false, "tickSize": -12, "tickWidth": 2.5, "labelPadding": 25}},
    "y": {"field": "v", "type": "quantitative", "scale": {"type": "log", "domain": [88.5, 270], "nice": false}, "axis": {"title": null, "orient": "right", "values": [90,120,150,180,210,240,270], "tickSize": -24, "tickWidth": 3, "labelPadding": 41, "labelFlush": true, "labelFlushOffset": 6}}}},
  {"data": {"name": "series"}, "transform": [{"filter": "datum.p == 'M' && datum.s == 'hc'"}], "mark": {"type": "line", "strokeWidth": 5, "strokeDash": [14, 6]},
   "encoding": {
    "x": {"field": "t", "type": "quantitative", "scale": {"domain": [1973, 1986], "nice": false, "zero": false}, "axis": {"title": null, "values": [1973,1974,1975,1976,1977,1978,1979,1980,1981,1982,1983,1984,1985], "format": "d", "labelExpr": "datum.value % 2 == 1 ? datum.label : ''", "labelOffset": 19, "labelFlush": false, "labelOverlap": false, "tickSize": -12, "tickWidth": 2.5, "labelPadding": 25}},
    "y": {"field": "v", "type": "quantitative", "scale": {"type": "log", "domain": [88.5, 270], "nice": false}, "axis": {"title": null, "orient": "right", "values": [90,120,150,180,210,240,270], "tickSize": -24, "tickWidth": 3, "labelPadding": 41, "labelFlush": true, "labelFlushOffset": 6}}}},
  {"data": {"name": "series"}, "transform": [{"filter": "datum.p == 'M' && datum.s == 'ulc'"}], "mark": {"type": "line", "strokeWidth": 6, "strokeDash": [0.1, 10], "strokeCap": "round"},
   "encoding": {
    "x": {"field": "t", "type": "quantitative", "scale": {"domain": [1973, 1986], "nice": false, "zero": false}, "axis": {"title": null, "values": [1973,1974,1975,1976,1977,1978,1979,1980,1981,1982,1983,1984,1985], "format": "d", "labelExpr": "datum.value % 2 == 1 ? datum.label : ''", "labelOffset": 19, "labelFlush": false, "labelOverlap": false, "tickSize": -12, "tickWidth": 2.5, "labelPadding": 25}},
    "y": {"field": "v", "type": "quantitative", "scale": {"type": "log", "domain": [88.5, 270], "nice": false}, "axis": {"title": null, "orient": "right", "values": [90,120,150,180,210,240,270], "tickSize": -24, "tickWidth": 3, "labelPadding": 41, "labelFlush": true, "labelFlushOffset": 6}}}},
  {"data": {"name": "one"}, "mark": {"type": "rule", "strokeWidth": 1.5}, "encoding": {"x": {"datum": 1973}, "x2": {"datum": 1986}, "y": {"datum": 100}}},
  {"data": {"name": "one"}, "mark": {"type": "text", "text": "Manufacturing", "fontWeight": "bold", "fontSize": 23}, "encoding": {"x": {"datum": 1978.8}, "y": {"datum": 251.1}}},
  {"data": {"name": "one"}, "mark": {"type": "text", "text": "Hourly"}, "encoding": {"x": {"datum": 1977.43}, "y": {"datum": 207.0}}},
  {"data": {"name": "one"}, "mark": {"type": "text", "text": "compensation"}, "encoding": {"x": {"datum": 1977.43}, "y": {"datum": 192.5}}},
  {"data": {"name": "one"}, "mark": {"type": "text", "text": "Unit labor costs"}, "encoding": {"x": {"datum": 1983.31}, "y": {"datum": 161.0}}},
  {"data": {"name": "one"}, "mark": {"type": "text", "text": "Productivity"}, "encoding": {"x": {"datum": 1980.08}, "y": {"datum": 123.5}}},
  {"data": {"name": "one"}, "mark": {"type": "rule", "strokeWidth": 2}, "encoding": {"x": {"datum": 1977.52}, "y": {"datum": 184.1}, "x2": {"datum": 1978.81}, "y2": {"datum": 171.0}}},
  {"data": {"name": "one"}, "mark": {"type": "rule", "strokeWidth": 2}, "encoding": {"x": {"datum": 1981.84}, "y": {"datum": 181.4}, "x2": {"datum": 1982.79}, "y2": {"datum": 169.4}}},
  {"data": {"name": "one"}, "mark": {"type": "rule", "strokeWidth": 2}, "encoding": {"x": {"datum": 1978.26}, "y": {"datum": 110.9}, "x2": {"datum": 1979.8}, "y2": {"datum": 118.6}}}
 ]
}
],
"config": {
 "view": {"stroke": "black", "strokeWidth": 6, "fill": "white"},
 "axis": {"labelFont": "Liberation Sans", "labelFontSize": 23, "labelColor": "black", "tickColor": "black", "domain": false, "grid": false},
 "text": {"font": "Liberation Sans", "fontSize": 24, "color": "black", "align": "center", "baseline": "middle", "dy": -3},
 "line": {"color": "black"},
 "rule": {"color": "black"}
}
}
